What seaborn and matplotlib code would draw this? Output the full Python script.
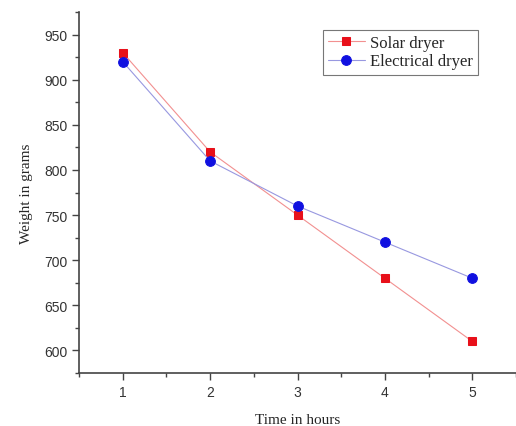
import matplotlib
matplotlib.use("Agg")
import matplotlib.pyplot as plt
import seaborn as sns
import pandas as pd
from matplotlib.ticker import MultipleLocator

hours = [1, 2, 3, 4, 5]
solar = [930, 820, 750, 680, 610]
electrical = [920, 810, 760, 720, 680]

sns.set_style("ticks")
plt.rcParams['font.family'] = ['Liberation Sans', 'DejaVu Sans']

fig = plt.figure(figsize=(5.16, 4.27), dpi=100)
ax = fig.add_axes([79/516, 53/427, 437/516, 361/427])

df_s = pd.DataFrame({"Time": hours, "Weight": solar})
df_e = pd.DataFrame({"Time": hours, "Weight": electrical})
sns.lineplot(data=df_s, x="Time", y="Weight", ax=ax, color="#f29090", lw=0.8,
             marker="s", markersize=6, markerfacecolor="#e8101a", markeredgecolor="#e8101a",
             label="Solar dryer")
sns.lineplot(data=df_e, x="Time", y="Weight", ax=ax, color="#9898e0", lw=0.8,
             marker="o", markersize=7, markerfacecolor="#1010e0", markeredgecolor="#1010e0",
             label="Electrical dryer")

ax.set_xlim(0.5, 5.5)
ax.set_ylim(575, 975)
ax.xaxis.set_major_locator(MultipleLocator(1))
ax.xaxis.set_minor_locator(MultipleLocator(0.5))
ax.yaxis.set_major_locator(MultipleLocator(50))
ax.yaxis.set_minor_locator(MultipleLocator(25))
for s in ["top", "right"]:
    ax.spines[s].set_visible(False)
for s in ["left", "bottom"]:
    ax.spines[s].set_color("#444444")
    ax.spines[s].set_linewidth(1.2)
ax.tick_params(which="major", direction="out", length=5, width=1, color="#444444",
               labelsize=10, labelcolor="#333333")
ax.tick_params(which="minor", direction="out", length=3, width=1, color="#444444")

ax.set_xlabel("Time in hours", fontfamily="Liberation Serif", fontsize=11, labelpad=10)
ax.set_ylabel("Weight in grams", fontfamily="Liberation Serif", fontsize=11, labelpad=8)

leg = ax.legend(loc="upper left", bbox_to_anchor=(244/437, (374-31)/361), frameon=True,
                fancybox=False, prop={"family": "Liberation Serif", "size": 12},
                borderpad=0.3, handlelength=2.2, handletextpad=0.3, labelspacing=0.15,
                borderaxespad=0)
leg.get_frame().set_edgecolor("#555555")
leg.get_frame().set_linewidth(0.8)

fig.savefig("out.png", dpi=100, facecolor="white")
